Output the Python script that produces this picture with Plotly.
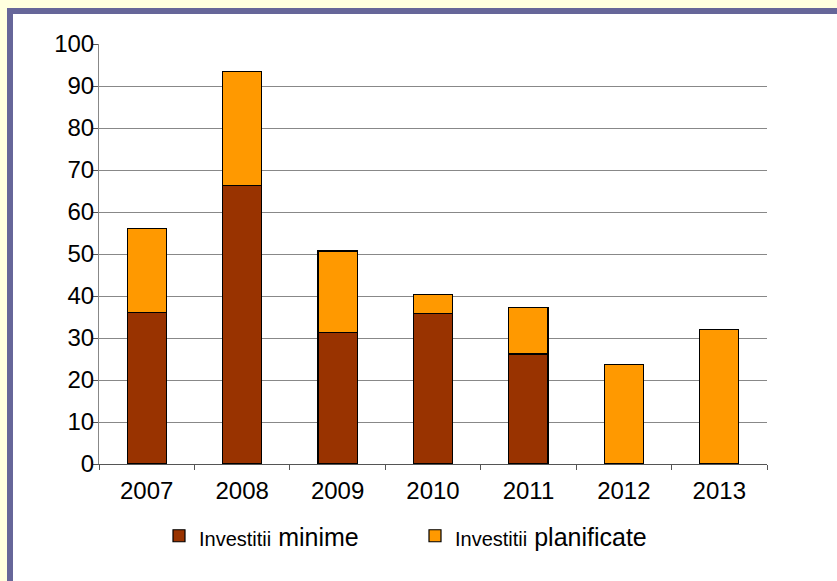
import plotly.graph_objects as go

years = ["2007", "2008", "2009", "2010", "2011", "2012", "2013"]
minime = [36.0, 66.4, 31.4, 35.9, 26.2, 0, 0]
planificate = [20.1, 27.0, 19.3, 4.5, 11.0, 23.6, 32.1]
y_ticks = [0, 10, 20, 30, 40, 50, 60, 70, 80, 90, 100]

W, H = 837, 581
L, R, T, B = 99, 70, 44, 117
pw, ph = W - L - R, H - T - B

def px(x):
    return (x - L) / pw

def py(y):
    return (H - B - y) / ph

fig = go.Figure()
fig.add_trace(go.Bar(
    x=years, y=minime,
    name="<span style='font-size:20px'>Investitii</span> minime",
    marker=dict(color="#993300", line=dict(color="black", width=1.2)),
    width=0.41,
))
fig.add_trace(go.Bar(
    x=years, y=planificate,
    name="<span style='font-size:20px'>Investitii</span> planificate",
    marker=dict(color="#FF9900", line=dict(color="black", width=1.2)),
    width=0.41,
))

shapes = [
    dict(type="rect", xref="paper", yref="paper", x0=px(0), x1=px(7), y0=py(H), y1=py(0),
         fillcolor="#FFFFDF", line=dict(width=0), layer="below"),
    dict(type="rect", xref="paper", yref="paper", x0=px(0), x1=px(W), y0=py(8), y1=py(0),
         fillcolor="#FFFFDF", line=dict(width=0), layer="below"),
    dict(type="rect", xref="paper", yref="paper", x0=px(7), x1=px(13), y0=py(H), y1=py(8),
         fillcolor="#666699", line=dict(width=0), layer="below"),
    dict(type="rect", xref="paper", yref="paper", x0=px(7), x1=px(W), y0=py(14), y1=py(8),
         fillcolor="#666699", line=dict(width=0), layer="below"),
]

fig.update_layout(
    width=W, height=H,
    margin=dict(l=L, r=R, t=T, b=B),
    barmode="stack",
    paper_bgcolor="white", plot_bgcolor="white",
    font=dict(family="Liberation Sans, Arial, sans-serif", size=24, color="black"),
    shapes=shapes,
    showlegend=True,
    legend=dict(orientation="h", x=px(159), xanchor="left", y=py(536), yanchor="middle",
                font=dict(size=25), traceorder="normal", itemwidth=30, entrywidth=211,
                valign="top", bgcolor="rgba(0,0,0,0)"),
    xaxis=dict(
        type="category", showgrid=False, showline=True, linecolor="#555555", linewidth=1,
        ticks="outside", tickson="boundaries", ticklen=5, tickcolor="#555555",
        tickfont=dict(size=24), ticklabelstandoff=5,
    ),
    yaxis=dict(
        range=[0, 100], tickvals=y_ticks, showgrid=True, gridcolor="#888888", gridwidth=1,
        showline=True, linecolor="#888888", linewidth=1, ticks="outside", ticklen=5,
        tickcolor="#555555", tickfont=dict(size=24), zeroline=False, ticklabelstandoff=-6,
    ),
)

fig.write_html("out.html", config={"displayModeBar": False},
               post_script="document.body.style.margin='0px';")
